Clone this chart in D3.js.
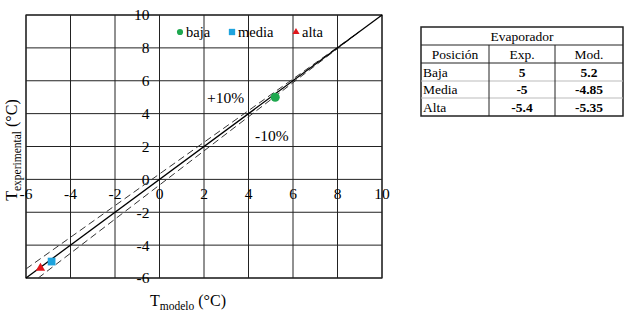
<!DOCTYPE html>
<html>
<head>
<meta charset="utf-8">
<script src="https://cdn.jsdelivr.net/npm/d3@7"></script>
<style>
  body { margin: 0; background: #fff; }
  text { font-family: "Liberation Serif", "DejaVu Serif", serif; }
</style>
</head>
<body>
<div id="chart"></div>
<script>
const positions = ["Baja", "Media", "Alta"];
const seriesNames = ["baja", "media", "alta"];
const expValues = [5, -5, -5.4];
const modValues = [5.2, -4.85, -5.35];
const expLabels = ["5", "-5", "-5.4"];
const modLabels = ["5.2", "-4.85", "-5.35"];
const seriesColors = ["#1fa84f", "#1ea3dd", "#e0161b"];
const ticks = [-6, -4, -2, 0, 2, 4, 6, 8, 10];
const lineIdeal = [[-6, -6], [10, 10]];
const linePlus = [[-6, -5.45], [9, 9]];
const lineMinus = [[-5.45, -6], [9, 9]];

const W = 627, H = 318;
const svg = d3.select("#chart").append("svg")
    .attr("width", W)
    .attr("height", H);

const x = d3.scaleLinear().domain([-6, 10]).range([26, 382]);
const y = d3.scaleLinear().domain([-6, 10]).range([278, 15]);

// grid
svg.append("g")
    .selectAll("line")
    .data(ticks)
    .join("line")
    .attr("x1", d => x(d)).attr("x2", d => x(d))
    .attr("y1", y(-6)).attr("y2", y(10))
    .attr("stroke", "#222").attr("stroke-width", 1);

svg.append("g")
    .selectAll("line")
    .data(ticks)
    .join("line")
    .attr("y1", d => y(d)).attr("y2", d => y(d))
    .attr("x1", x(-6)).attr("x2", x(10))
    .attr("stroke", "#222").attr("stroke-width", 1);

svg.append("rect")
    .attr("x", x(-6)).attr("y", y(10))
    .attr("width", x(10) - x(-6)).attr("height", y(-6) - y(10))
    .attr("fill", "none").attr("stroke", "#222").attr("stroke-width", 1.2);

// tick labels
svg.append("g")
    .selectAll("text")
    .data(ticks)
    .join("text")
    .attr("x", x(0) - 10)
    .attr("y", d => y(d))
    .attr("dy", "0.35em")
    .attr("text-anchor", "end")
    .attr("font-size", 15.5)
    .text(d => d);

svg.append("g")
    .selectAll("text")
    .data(ticks)
    .join("text")
    .attr("x", d => x(d))
    .attr("y", y(0) + 20)
    .attr("text-anchor", "middle")
    .attr("font-size", 15.5)
    .text(d => d);

// reference lines
const line = d3.line().x(d => x(d[0])).y(d => y(d[1]));

svg.append("path").datum(linePlus)
    .attr("d", line).attr("fill", "none")
    .attr("stroke", "#333").attr("stroke-width", 1)
    .attr("stroke-dasharray", "7,4");
svg.append("path").datum(lineMinus)
    .attr("d", line).attr("fill", "none")
    .attr("stroke", "#333").attr("stroke-width", 1)
    .attr("stroke-dasharray", "7,4");
svg.append("path").datum(lineIdeal)
    .attr("d", line).attr("fill", "none")
    .attr("stroke", "#000").attr("stroke-width", 1.3);

// points
const symbols = [d3.symbolCircle, d3.symbolSquare, d3.symbolTriangle];
const symSizes = [65, 60, 38];
svg.append("g")
    .selectAll("path")
    .data(positions)
    .join("path")
    .attr("transform", (d, i) => `translate(${x(modValues[i])},${y(expValues[i])})`)
    .attr("d", (d, i) => d3.symbol(symbols[i], symSizes[i])())
    .attr("fill", (d, i) => seriesColors[i]);

// legend
const legendX = [180, 232, 296];
const legend = svg.append("g")
    .selectAll("g")
    .data(seriesNames)
    .join("g")
    .attr("transform", (d, i) => `translate(${legendX[i]},32)`);
legend.append("path")
    .attr("d", (d, i) => d3.symbol(symbols[i], [30, 40, 22][i])())
    .attr("fill", (d, i) => seriesColors[i]);
legend.append("text")
    .attr("x", 6)
    .attr("dy", "0.35em")
    .attr("font-size", 14.5)
    .text(d => d);

// band labels
svg.append("text").attr("x", 207).attr("y", 103)
    .attr("font-size", 15.5).text("+10%");
svg.append("text").attr("x", 255).attr("y", 141)
    .attr("font-size", 15.5).text("-10%");

// axis titles
const xt = svg.append("text")
    .attr("x", 150).attr("y", 306)
    .attr("font-size", 16);
xt.append("tspan").text("T");
xt.append("tspan").attr("font-size", 11.5).attr("dy", 4).text("modelo");
xt.append("tspan").attr("dy", -4).text(" (\u00b0C)");

const yt = svg.append("text")
    .attr("transform", "translate(17,150) rotate(-90)")
    .attr("text-anchor", "middle")
    .attr("font-size", 16);
yt.append("tspan").text("T");
yt.append("tspan").attr("font-size", 11.5).attr("dy", 4).text("experimental");
yt.append("tspan").attr("dy", -4).text(" (\u00b0C)");

// table
const tbl = svg.append("g");
const cols = [421, 489, 555, 623];
const rows = [27, 45, 63, 81, 98, 116];
tbl.append("rect")
    .attr("x", cols[0]).attr("y", rows[0])
    .attr("width", cols[3] - cols[0]).attr("height", rows[5] - rows[0])
    .attr("fill", "none").attr("stroke", "#222").attr("stroke-width", 1.5);
tbl.selectAll(".hl")
    .data(rows.slice(1, 5))
    .join("line")
    .attr("x1", cols[0]).attr("x2", cols[3])
    .attr("y1", d => d).attr("y2", d => d)
    .attr("stroke", (d, i) => i < 2 ? "#222" : "#bbb").attr("stroke-width", 1);
tbl.selectAll(".vl")
    .data(cols.slice(1, 3))
    .join("line")
    .attr("x1", d => d).attr("x2", d => d)
    .attr("y1", rows[1]).attr("y2", rows[5])
    .attr("stroke", "#222").attr("stroke-width", 1);

tbl.append("text")
    .attr("x", (cols[0] + cols[3]) / 2).attr("y", (rows[0] + rows[1]) / 2)
    .attr("dy", "0.35em").attr("text-anchor", "middle")
    .attr("font-size", 13.5).text("Evaporador");

const headers = ["Posición", "Exp.", "Mod."];
tbl.selectAll(".hd")
    .data(headers)
    .join("text")
    .attr("x", (d, i) => (cols[i] + cols[i + 1]) / 2)
    .attr("y", (rows[1] + rows[2]) / 2)
    .attr("dy", "0.35em").attr("text-anchor", "middle")
    .attr("font-size", 13.5).text(d => d);

positions.forEach((p, i) => {
    const cy = (rows[i + 2] + rows[i + 3]) / 2;
    tbl.append("text").attr("x", cols[0] + 2).attr("y", cy)
        .attr("dy", "0.35em").attr("font-size", 13.5).text(p);
    tbl.append("text").attr("x", (cols[1] + cols[2]) / 2).attr("y", cy)
        .attr("dy", "0.35em").attr("text-anchor", "middle")
        .attr("font-size", 13.5).attr("font-weight", "bold").text(expLabels[i]);
    tbl.append("text").attr("x", (cols[2] + cols[3]) / 2).attr("y", cy)
        .attr("dy", "0.35em").attr("text-anchor", "middle")
        .attr("font-size", 13.5).attr("font-weight", "bold").text(modLabels[i]);
});
</script>
</body>
</html>
